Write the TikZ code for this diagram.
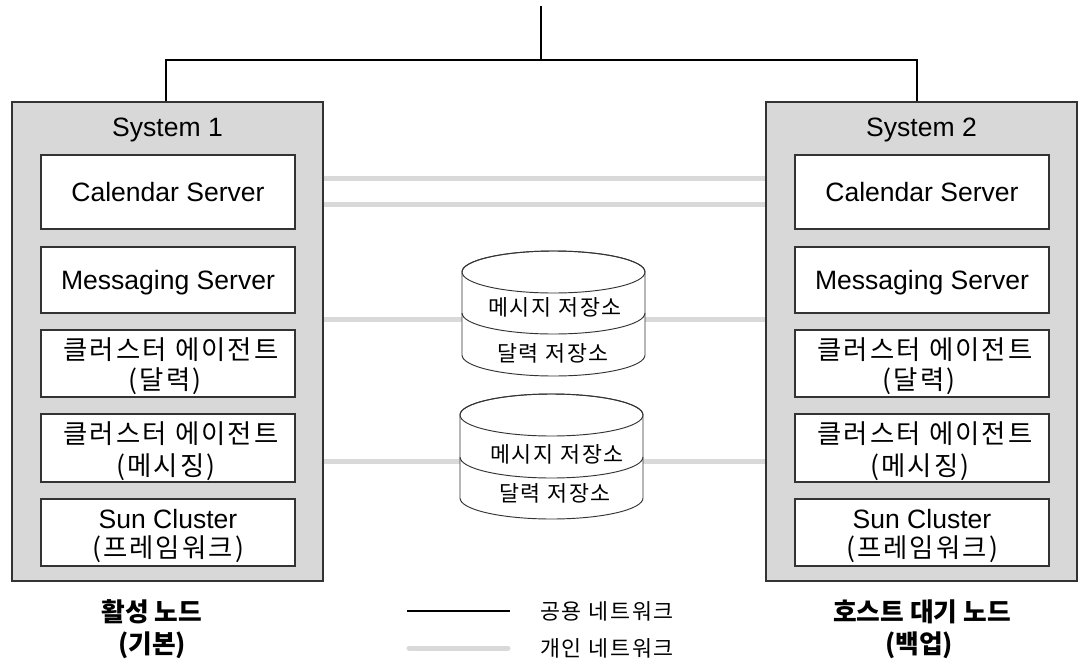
\documentclass[tikz,border=0pt]{standalone}
\usepackage{fontspec}
\setmainfont{Liberation Sans}
\newfontfamily\kr[LetterSpace=8]{Noto Sans CJK KR}
\newfontfamily\krn{Noto Sans CJK KR}
\usetikzlibrary{fit}
\definecolor{boxgray}{HTML}{D8D8D8}
\definecolor{linegray}{HTML}{D9D9D9}
\definecolor{edge}{HTML}{333333}
\tikzset{
 sysbox/.style={draw=edge, fill=boxgray, line width=0.8pt, inner sep=0pt},
 compbox/.style={draw=edge, fill=white, line width=0.8pt, inner sep=0pt},
 lat/.style={font=\fontsize{19.9}{24}\selectfont, inner sep=0pt, anchor=base},
 kor/.style={font=\kr\fontsize{19.8}{24}\selectfont, inner sep=0pt},
 korsm/.style={font=\kr\fontsize{16.3}{20}\selectfont, inner sep=0pt},
 titletext/.style={font=\krn\bfseries\fontsize{19.3}{23}\selectfont, inner sep=0pt},
 pub/.style={draw=black, line width=0.8pt},
 priv/.style={draw=linegray, line width=3.75pt},
 cyl/.style={draw=edge, fill=white, line width=0.7pt},
}
\begin{document}
\begin{tikzpicture}[x=0.75pt, y=-0.75pt]
\useasboundingbox (0,0) rectangle (1079,665);

% systems
\foreach \n/\dx in {1/0, 2/754} {
  \node[sysbox, fit={(12+\dx,102) (323+\dx,581)}] (sys\n) {};
  \node[lat] (stitle\n) at (167.5+\dx,136) {System \n};
  \node[compbox, fit={(41+\dx,155) (295+\dx,229)}] (cal\n) {};
  \node[compbox, fit={(41+\dx,247) (295+\dx,313)}] (msg\n) {};
  \node[compbox, fit={(41+\dx,330) (295+\dx,397)}] (caa\n) {};
  \node[compbox, fit={(41+\dx,414) (295+\dx,482)}] (cab\n) {};
  \node[compbox, fit={(41+\dx,499) (295+\dx,566)}] (sun\n) {};
  \node[lat] (calt\n) at (168+\dx,201) {Calendar Server};
  \node[lat] (msgt\n) at (168+\dx,289) {Messaging Server};
  \node[kor] (caat\n) at (171+\dx,350) {클러스터 에이전트};
  \node[kor] (caas\n) at (165+\dx,381) {(달력)};
  \node[kor] (cabt\n) at (171+\dx,434) {클러스터 에이전트};
  \node[kor] (cabs\n) at (166+\dx,467) {(메시징)};
  \node[lat] (sunt\n) at (168+\dx,528) {Sun Cluster};
  \node[kor] (suns\n) at (168+\dx,549) {(프레임워크)};
}

% public network
\coordinate (uplink) at (541,6);
\coordinate (hub) at (541,60);
\coordinate (lhub) at (166,60);
\coordinate (rhub) at (917,60);
\draw[pub] (uplink) -- (hub);
\draw[pub] (lhub |- sys1.north) -- (lhub) -- (rhub) -- (rhub |- sys2.north);

% private network
\foreach \i/\yy in {1/178, 2/204, 3/319, 4/461} {
  \coordinate (pl\i) at (541,\yy);
  \draw[priv] (sys1.east |- pl\i) -- (sys2.west |- pl\i);
}

% storage cylinders
\foreach \c/\cx/\yt/\ym/\yb in {1/553.5/272/313/355, 2/551.5/415/457/498} {
  \coordinate (cyl\c) at (\cx,\yt);
  \filldraw[cyl] (\cx-91.5,\yt) -- (\cx-91.5,\yb)
     arc[start angle=180, end angle=0, x radius=91.5, y radius=21]
     -- (\cx+91.5,\yt)
     arc[start angle=0, end angle=-180, x radius=91.5, y radius=21] -- cycle;
  \draw[cyl, fill=none] (cyl\c) ellipse[x radius=91.5, y radius=21];
  \draw[cyl, fill=none] (\cx-91.5,\ym) arc[start angle=180, end angle=0, x radius=91.5, y radius=21];
}
\node[korsm] (c1m) at (555,307) {메시지 저장소};
\node[korsm] (c1c) at (553,353) {달력 저장소};
\node[korsm] (c2m) at (557,454) {메시지 저장소};
\node[korsm] (c2c) at (555,493) {달력 저장소};

% legend
\coordinate (lg1) at (407,611);
\coordinate (lg2) at (510,611);
\coordinate (lg3) at (409,648);
\coordinate (lg4) at (508,648);
\draw[pub] (lg1) -- (lg2);
\draw[priv, line cap=round] (lg3) -- (lg4);
\node[korsm, anchor=west] (lgpub) at (540,611) {공용 네트워크};
\node[korsm, anchor=west] (lgpriv) at (540,648) {개인 네트워크};

% titles
\node[titletext] (act1) at (152,612) {활성 노드};
\node[titletext] (act2) at (152,645) {(기본)};
\node[titletext] (bak1) at (922,612) {호스트 대기 노드};
\node[titletext] (bak2) at (919,645) {(백업)};
\end{tikzpicture}
\end{document}
